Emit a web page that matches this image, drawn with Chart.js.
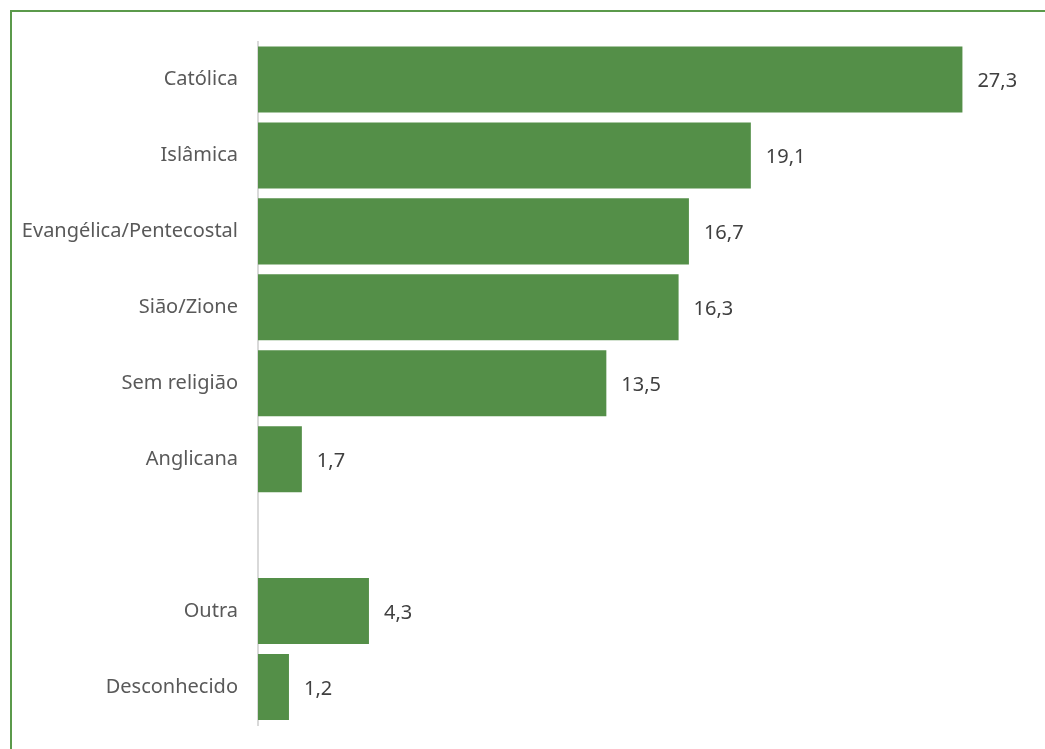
<!DOCTYPE html>
<html>
<head>
<meta charset="utf-8">
<script src="https://cdn.jsdelivr.net/npm/chart.js@4"></script>
<style>
  html, body { margin: 0; padding: 0; background: #fff; }
  #wrap { position: relative; width: 1045px; height: 749px; overflow: hidden; }
  #frame {
    position: absolute; left: 10px; top: 10px; width: 1100px; height: 800px;
    border: 2px solid #5b9a4b; box-sizing: border-box;
  }
  #chart { position: absolute; left: 0; top: 0; }
</style>
</head>
<body>
<div id="wrap">
  <div id="frame"></div>
  <canvas id="chart" width="1045" height="757"></canvas>
</div>
<script>
const categories = ['Católica', 'Islâmica', 'Evangélica/Pentecostal', 'Sião/Zione', 'Sem religião', 'Anglicana', '', 'Outra', 'Desconhecido'];
const values = [27.3, 19.1, 16.7, 16.3, 13.5, 1.7, null, 4.3, 1.2];

const fmt = v => v.toFixed(1).replace('.', ',');

const valueLabels = {
    id: 'valueLabels',
    afterDatasetsDraw(chart) {
        const ctx = chart.ctx;
        const meta = chart.getDatasetMeta(0);
        ctx.save();
        ctx.font = '20px "Noto Sans"';
        ctx.fillStyle = '#404040';
        ctx.textAlign = 'left';
        ctx.textBaseline = 'middle';
        meta.data.forEach((bar, i) => {
            if (values[i] == null) return;
            ctx.fillText(fmt(values[i]), bar.x + 15, bar.y + 2);
        });
        ctx.restore();
    }
};

new Chart(document.getElementById('chart'), {
    type: 'bar',
    data: {
        labels: categories,
        datasets: [{
            data: values,
            backgroundColor: '#548f48',
            borderWidth: 0,
            categoryPercentage: 1,
            barPercentage: 0.87
        }]
    },
    options: {
        indexAxis: 'y',
        responsive: false,
        animation: false,
        layout: { padding: { top: 41.5, bottom: 17, left: 0, right: 0 } },
        plugins: { legend: { display: false }, tooltip: { enabled: false } },
        scales: {
            x: {
                min: 0, max: 30.5,
                display: false
            },
            y: {
                afterFit(scale) { scale.width = 258; },
                grid: { display: false, drawTicks: false },
                border: { color: '#d9d9d9', width: 2 },
                ticks: {
                    padding: 20,
                    color: '#595959',
                    font: { family: 'Noto Sans', size: 20 }
                }
            }
        }
    },
    plugins: [valueLabels]
});
</script>
</body>
</html>
